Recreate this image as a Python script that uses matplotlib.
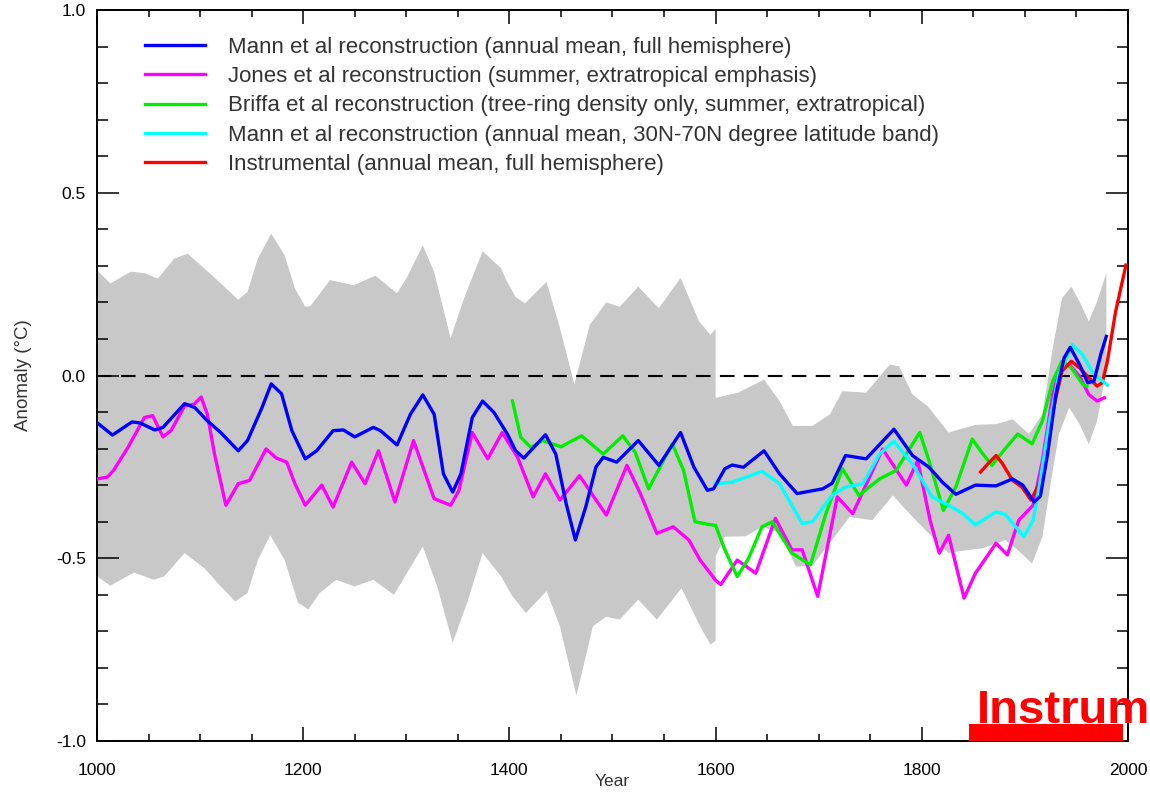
import matplotlib
matplotlib.use('Agg')
import matplotlib.pyplot as plt
import numpy as np

plt.rcParams['font.family'] = ['Liberation Sans', 'DejaVu Sans']

# uncertainty band (grey), upper and lower edges
band_up_year = [1000, 1013, 1033, 1046, 1059, 1075, 1088, 1104, 1120, 1137, 1146, 1156, 1169, 1182,
                1192, 1202, 1207, 1226, 1249, 1270, 1291, 1301, 1316, 1327, 1343, 1356, 1374, 1392,
                1397, 1406, 1415, 1436, 1449, 1463, 1478, 1494, 1507, 1525, 1545, 1566, 1584, 1595,
                1600, 1600, 1622, 1647, 1662, 1675, 1694, 1711, 1723, 1746, 1769, 1778, 1791, 1806,
                1826, 1852, 1872, 1888, 1904, 1917, 1927, 1936, 1945, 1953, 1962, 1970, 1979]
band_up = [0.288, 0.252, 0.284, 0.28, 0.265, 0.32, 0.333, 0.293, 0.252, 0.207, 0.229, 0.32, 0.388, 0.329,
           0.238, 0.188, 0.19, 0.261, 0.247, 0.273, 0.225, 0.27, 0.356, 0.283, 0.102, 0.211, 0.34, 0.293,
           0.26, 0.215, 0.197, 0.256, 0.13, -0.024, 0.139, 0.2, 0.188, 0.243, 0.184, 0.267, 0.148, 0.111,
           0.128, -0.061, -0.047, -0.011, -0.07, -0.138, -0.138, -0.106, -0.043, -0.047, 0.03, 0.025, -0.052, -0.085,
           -0.156, -0.135, -0.133, -0.12, -0.16, -0.106, 0.075, 0.211, 0.243, 0.202, 0.148, 0.202, 0.28]

band_lo_year = [1000, 1013, 1036, 1055, 1065, 1085, 1104, 1120, 1134, 1146, 1156, 1168, 1182, 1195,
                1205, 1216, 1232, 1250, 1268, 1288, 1316, 1330, 1345, 1359, 1374, 1392, 1402, 1416,
                1436, 1449, 1465, 1481, 1494, 1507, 1525, 1543, 1567, 1585, 1595, 1600, 1600, 1609,
                1629, 1645, 1662, 1678, 1694, 1713, 1730, 1752, 1772, 1791, 1806, 1826, 1843, 1859,
                1881, 1894, 1907, 1917, 1927, 1933, 1943, 1953, 1962, 1970, 1979]
band_lo = [-0.55, -0.575, -0.539, -0.559, -0.55, -0.486, -0.527, -0.577, -0.618, -0.595, -0.505, -0.437, -0.505, -0.622,
           -0.64, -0.595, -0.559, -0.577, -0.559, -0.6, -0.468, -0.577, -0.731, -0.622, -0.486, -0.55, -0.6, -0.65,
           -0.59, -0.686, -0.876, -0.686, -0.66, -0.668, -0.613, -0.668, -0.582, -0.686, -0.736, -0.726, -0.495, -0.441,
           -0.44, -0.414, -0.43, -0.523, -0.52, -0.45, -0.387, -0.396, -0.328, -0.387, -0.43, -0.486, -0.478, -0.473,
           -0.45, -0.48, -0.514, -0.441, -0.26, -0.16, -0.088, -0.133, -0.188, -0.124, 0.012]

# Mann et al, full hemisphere
mann_year = [1000, 1015, 1034, 1042, 1056, 1064, 1085, 1095, 1107, 1120, 1137, 1146, 1160, 1169, 1179,
             1189, 1202, 1213, 1229, 1239, 1250, 1268, 1275, 1291, 1304, 1316, 1327, 1336, 1345, 1353,
             1364, 1374, 1385, 1398, 1406, 1414, 1435, 1445, 1455, 1464, 1474, 1484, 1491, 1504, 1525,
             1545, 1566, 1579, 1592, 1598, 1609, 1616, 1627, 1647, 1662, 1679, 1704, 1713, 1726, 1746,
             1773, 1791, 1807, 1820, 1833, 1852, 1872, 1888, 1898, 1909, 1915, 1922, 1930, 1938, 1944,
             1953, 1961, 1967, 1974, 1979]
mann = [-0.129, -0.163, -0.127, -0.13, -0.149, -0.142, -0.077, -0.088, -0.124, -0.156, -0.206, -0.178, -0.088, -0.023, -0.05,
        -0.151, -0.228, -0.206, -0.151, -0.149, -0.168, -0.142, -0.151, -0.19, -0.106, -0.053, -0.106, -0.269, -0.319, -0.269,
        -0.115, -0.07, -0.101, -0.16, -0.206, -0.226, -0.162, -0.215, -0.35, -0.45, -0.36, -0.25, -0.224, -0.237, -0.178,
        -0.246, -0.156, -0.251, -0.314, -0.31, -0.255, -0.245, -0.251, -0.206, -0.269, -0.323, -0.31, -0.295, -0.219, -0.228,
        -0.147, -0.219, -0.251, -0.292, -0.325, -0.3, -0.302, -0.283, -0.3, -0.346, -0.33, -0.215, -0.052, 0.048, 0.077,
        0.03, -0.02, -0.015, 0.062, 0.107]

# Jones et al
jones_year = [1000, 1010, 1016, 1030, 1046, 1054, 1064, 1072, 1085, 1094, 1101, 1107, 1114, 1125, 1137,
              1148, 1164, 1174, 1184, 1192, 1202, 1218, 1229, 1247, 1260, 1273, 1289, 1307, 1327, 1343,
              1351, 1364, 1379, 1393, 1408, 1423, 1435, 1449, 1468, 1494, 1514, 1527, 1543, 1559, 1574,
              1585, 1600, 1605, 1621, 1639, 1658, 1674, 1684, 1699, 1718, 1733, 1762, 1785, 1796, 1808,
              1817, 1826, 1841, 1852, 1872, 1883, 1894, 1908, 1917, 1927, 1935, 1943, 1953, 1962, 1970, 1977]
jones = [-0.283, -0.278, -0.26, -0.197, -0.115, -0.11, -0.168, -0.15, -0.083, -0.079, -0.059, -0.106, -0.215, -0.355, -0.296,
         -0.287, -0.201, -0.226, -0.237, -0.296, -0.355, -0.3, -0.36, -0.237, -0.296, -0.206, -0.346, -0.178, -0.337, -0.355,
         -0.315, -0.156, -0.228, -0.156, -0.224, -0.332, -0.269, -0.341, -0.274, -0.382, -0.246, -0.323, -0.432, -0.414, -0.45,
         -0.505, -0.56, -0.572, -0.505, -0.541, -0.391, -0.477, -0.477, -0.604, -0.332, -0.378, -0.201, -0.3, -0.233, -0.396,
         -0.486, -0.437, -0.609, -0.541, -0.459, -0.491, -0.396, -0.355, -0.233, -0.052, 0.03, 0.03, -0.002, -0.052, -0.07, -0.061]

# Briffa et al
briffa_year = [1403, 1411, 1421, 1432, 1450, 1470, 1491, 1510, 1522, 1535, 1546, 1558, 1569, 1580, 1592,
               1600, 1609, 1621, 1632, 1645, 1655, 1674, 1692, 1707, 1723, 1739, 1759, 1775, 1798, 1807,
               1821, 1833, 1849, 1858, 1868, 1881, 1893, 1907, 1917, 1927, 1936, 1945, 1956, 1960]
briffa = [-0.07, -0.169, -0.197, -0.178, -0.195, -0.165, -0.215, -0.165, -0.21, -0.31, -0.251, -0.187, -0.26, -0.4, -0.407,
          -0.41, -0.477, -0.55, -0.5, -0.414, -0.4, -0.486, -0.518, -0.378, -0.255, -0.328, -0.283, -0.26, -0.156, -0.233,
          -0.369, -0.305, -0.174, -0.21, -0.246, -0.2, -0.16, -0.187, -0.124, -0.015, 0.039, 0.021, -0.024, -0.03]

# Mann et al, 30N-70N band
band30_year = [1600, 1616, 1645, 1662, 1684, 1694, 1713, 1726, 1743, 1759, 1773, 1791, 1810, 1826, 1840,
               1852, 1872, 1881, 1891, 1899, 1908, 1915, 1924, 1933, 1946, 1956, 1966, 1975, 1980]
band30 = [-0.296, -0.292, -0.262, -0.296, -0.405, -0.4, -0.328, -0.305, -0.296, -0.215, -0.18, -0.242, -0.332, -0.355, -0.378,
          -0.409, -0.373, -0.38, -0.414, -0.441, -0.396, -0.287, -0.124, 0.003, 0.084, 0.057, 0.007, -0.014, -0.026]

# instrumental record
instr_year = [1857, 1864, 1872, 1878, 1888, 1897, 1906, 1917, 1923, 1930, 1936, 1945, 1953, 1962, 1970,
              1975, 1980, 1988, 1998]
instr = [-0.264, -0.242, -0.219, -0.24, -0.287, -0.305, -0.341, -0.278, -0.16, -0.061, 0.012, 0.039, 0.021, -0.006, -0.029,
         -0.02, 0.039, 0.175, 0.302]

instr_period = [1846, 1995]

labels = ['Mann et al reconstruction (annual mean, full hemisphere)',
          'Jones et al reconstruction (summer, extratropical emphasis)',
          'Briffa et al reconstruction (tree-ring density only, summer, extratropical)',
          'Mann et al reconstruction (annual mean, 30N-70N degree latitude band)',
          'Instrumental (annual mean, full hemisphere)']

fig = plt.figure(figsize=(11.5, 7.93), dpi=100)
ax = fig.add_axes([97 / 1150, 52 / 793, 1031 / 1150, 731 / 793])

ax.fill(band_up_year + band_lo_year[::-1], band_up + band_lo[::-1], color='#c8c8c8', lw=0, zorder=1)
ax.axhline(0, color='black', lw=1.5, dashes=(7, 4.5), zorder=2)

lw = 2.4
ax.plot(mann_year, mann, color='#0000ff', lw=lw, label=labels[0], zorder=6)
ax.plot(jones_year, jones, color='#ff00ff', lw=lw, label=labels[1], zorder=3)
ax.plot(briffa_year, briffa, color='#00ee00', lw=lw, label=labels[2], zorder=4)
ax.plot(band30_year, band30, color='#00ffff', lw=lw, label=labels[3], zorder=5)
ax.plot(instr_year, instr, color='#ff0000', lw=lw, label=labels[4], zorder=4.5)

ax.axvspan(instr_period[0], instr_period[1], ymin=0, ymax=0.023, color='#ff0000', lw=0, zorder=7)

ax.set_xlim(1000, 2000)
ax.set_ylim(-1.0, 1.0)
ax.set_xticks(np.arange(1000, 2001, 200))
ax.set_xticks(np.arange(1000, 2001, 50), minor=True)
ax.set_yticks(np.arange(-1.0, 1.01, 0.5))
ax.set_yticks(np.arange(-1.0, 1.01, 0.1), minor=True)
ax.set_yticklabels(['-1.0', '-0.5', '0.0', '0.5', '1.0'])
ax.tick_params(axis='x', which='major', direction='in', length=10, width=1.1, top=True, labelsize=12.5, pad=16)
ax.tick_params(axis='x', which='minor', direction='in', length=5, width=1.1, top=True)
ax.tick_params(axis='y', which='major', direction='in', length=16, width=1.1, right=True, labelsize=12.5, pad=8)
ax.tick_params(axis='y', which='minor', direction='in', length=8, width=1.1, right=True)
for s in ax.spines.values():
    s.set_linewidth(1.4)

ax.set_xlabel('Year', fontsize=12.5, color='#333333', labelpad=-3)
ax.set_ylabel('Anomaly (°C)', fontsize=13.5, color='#333333', labelpad=17)

ax.legend(loc='upper left', bbox_to_anchor=(0.0466, 0.963), frameon=False, fontsize=16.0,
          handlelength=2.72, handletextpad=1.02, labelspacing=0.37, borderpad=0, borderaxespad=0,
          labelcolor='#333333')

fig.text(977 / 1150, 1 - 723 / 793, 'Instrum', color='#ff0000', fontsize=34, fontweight='bold',
         va='baseline', ha='left')

fig.savefig('out.png', dpi=100)
